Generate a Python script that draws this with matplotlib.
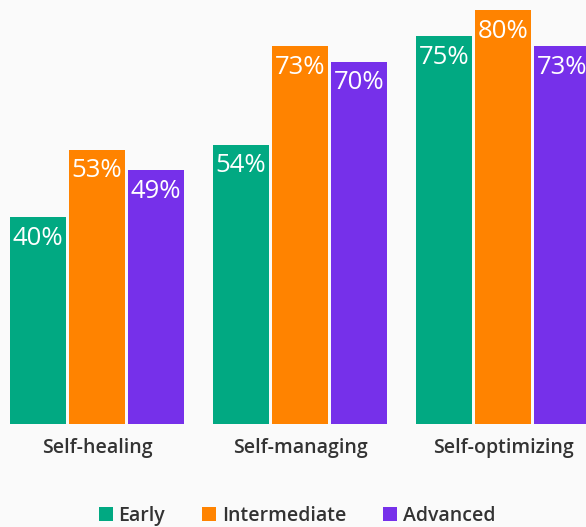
import numpy as np
import matplotlib
matplotlib.use('Agg')
import matplotlib.pyplot as plt

categories = ['Self-healing', 'Self-managing', 'Self-optimizing']
series = ['Early', 'Intermediate', 'Advanced']
early = [40, 54, 75]
intermediate = [53, 73, 80]
advanced = [49, 70, 73]
colors = ['#01A982', '#FF8300', '#7630EA']

plt.rcParams['font.family'] = ['Open Sans', 'DejaVu Sans']

fig = plt.figure(figsize=(5.86, 5.27), dpi=100, facecolor='#FAFAFA')
ax = fig.add_axes([0, 103 / 527, 1, 414 / 527])
ax.set_facecolor('#FAFAFA')

x = np.arange(len(categories))
width = 56 / 203
pitch = 59 / 203
for i, (name, vals) in enumerate(zip(series, [early, intermediate, advanced])):
    bars = ax.bar(x + (i - 1) * pitch, vals, width, color=colors[i], label=name)
    for b, v in zip(bars, vals):
        ax.text(b.get_x() + b.get_width() / 2, v - 4.1, f'{v}%', ha='center', va='center',
                color='white', fontsize=18.5)

ax.set_xlim(-97 / 203, 489 / 203)
ax.set_ylim(0, 80)
ax.set_xticks(x)
ax.set_xticklabels(categories, fontsize=14, color='#333333', fontweight='semibold')
ax.tick_params(axis='x', length=0, pad=10)
ax.set_yticks([])
for s in ax.spines.values():
    s.set_visible(False)

leg = fig.legend(loc='center', bbox_to_anchor=(0.507, 1 - 516 / 527), ncol=3, frameon=False,
                 prop={'size': 14, 'weight': 'semibold'}, handlelength=0.7, handleheight=0.7,
                 handletextpad=0.3, columnspacing=1.9, borderpad=0)
for t in leg.get_texts():
    t.set_color('#333333')

fig.savefig('out.png', dpi=100, facecolor=fig.get_facecolor())
